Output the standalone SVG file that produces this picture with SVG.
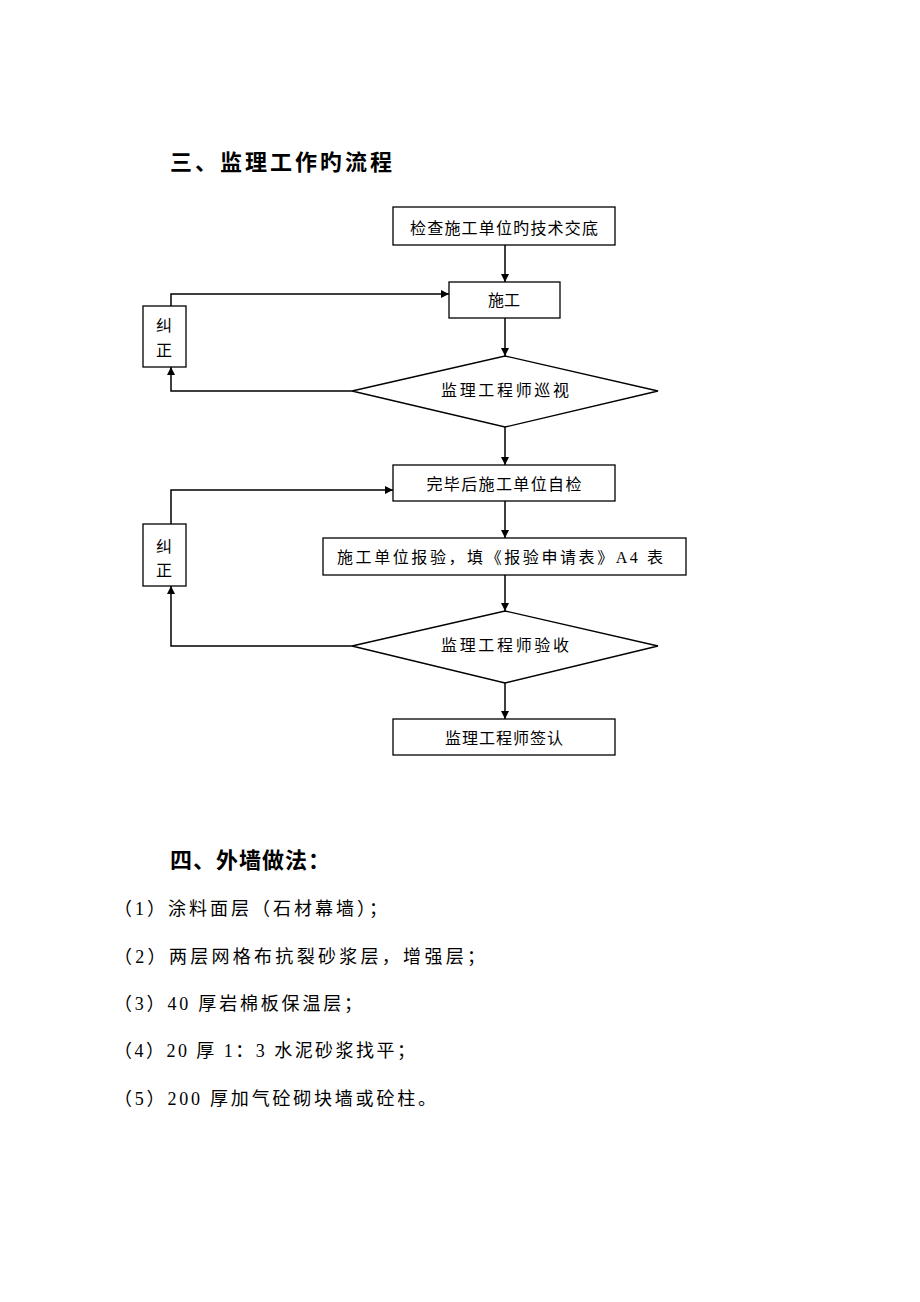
<svg xmlns="http://www.w3.org/2000/svg" width="920" height="1302" viewBox="0 0 920 1302">
<style>
.bg{fill:#fff}
.box{fill:#fff;stroke:#000;stroke-width:1.3}
.lbl{font-family:"Liberation Serif","Noto Sans CJK SC",serif;font-size:16px;fill:#000;text-anchor:middle}
.h{font-family:"Noto Sans CJK SC",sans-serif;font-size:22px;font-weight:bold;fill:#000}
.t{font-family:"Liberation Serif","Noto Sans CJK SC",serif;font-size:18px;fill:#000}
.ln{fill:none;stroke:#000;stroke-width:1.5}
</style>
<defs>
<marker id="arr" viewBox="0 0 10 10" refX="10" refY="5" markerWidth="8" markerHeight="8" markerUnits="userSpaceOnUse" orient="auto">
<path d="M0,0 L10,5 L0,10 z" fill="#000"/>
</marker>
</defs>
<rect class="bg" x="0" y="0" width="920" height="1302"/>
<text class="h" x="170" y="170" textLength="222" lengthAdjust="spacing">三、监理工作旳流程</text>

<g id="connectors">
<line class="ln" x1="505" y1="245" x2="505" y2="282" marker-end="url(#arr)"/>
<line class="ln" x1="505" y1="318" x2="505" y2="356" marker-end="url(#arr)"/>
<line class="ln" x1="505" y1="427" x2="505" y2="465" marker-end="url(#arr)"/>
<line class="ln" x1="505" y1="501" x2="505" y2="538" marker-end="url(#arr)"/>
<line class="ln" x1="505" y1="575" x2="505" y2="611" marker-end="url(#arr)"/>
<line class="ln" x1="505" y1="683" x2="505" y2="719" marker-end="url(#arr)"/>
<polyline class="ln" points="171,306 171,294 449,294" marker-end="url(#arr)"/>
<polyline class="ln" points="352,391 171,391 171,367" marker-end="url(#arr)"/>
<polyline class="ln" points="171,524 171,490 393,490" marker-end="url(#arr)"/>
<polyline class="ln" points="352,646 171,646 171,586" marker-end="url(#arr)"/>
</g>

<g id="n1"><rect class="box" x="393" y="207" width="222" height="38"/><text class="lbl" x="504" y="234" textLength="188" lengthAdjust="spacing">检查施工单位旳技术交底</text></g>
<g id="n2"><rect class="box" x="449" y="282" width="111" height="36"/><text class="lbl" x="504" y="306">施工</text></g>
<g id="n3"><polygon class="box" points="505,356 658,391 505,427 352,391"/><text class="lbl" x="505" y="396" textLength="128" lengthAdjust="spacing">监理工程师巡视</text></g>
<g id="n4"><rect class="box" x="393" y="465" width="222" height="36"/><text class="lbl" x="504" y="490" textLength="155" lengthAdjust="spacing">完毕后施工单位自检</text></g>
<g id="n5"><rect class="box" x="323" y="538" width="363" height="37"/><text class="lbl" x="500" y="563" textLength="326" lengthAdjust="spacing">施工单位报验，填《报验申请表》A4 表</text></g>
<g id="n6"><polygon class="box" points="505,611 658,646 505,683 352,646"/><text class="lbl" x="505" y="651" textLength="128" lengthAdjust="spacing">监理工程师验收</text></g>
<g id="n7"><rect class="box" x="393" y="719" width="222" height="36"/><text class="lbl" x="504" y="744" textLength="118" lengthAdjust="spacing">监理工程师签认</text></g>
<g id="c1"><rect class="box" x="143" y="306" width="43" height="61"/><text class="lbl" x="164" y="331">纠</text><text class="lbl" x="164" y="356">正</text></g>
<g id="c2"><rect class="box" x="143" y="524" width="43" height="62"/><text class="lbl" x="164" y="552">纠</text><text class="lbl" x="164" y="576">正</text></g>

<text class="h" x="170" y="868" textLength="160" lengthAdjust="spacing">四、外墙做法：</text>
<text class="t" x="114" y="915" textLength="273" lengthAdjust="spacing">（1）涂料面层（石材幕墙）；</text>
<text class="t" x="114" y="963" textLength="371" lengthAdjust="spacing">（2）两层网格布抗裂砂浆层，增强层；</text>
<text class="t" x="114" y="1010" textLength="248" lengthAdjust="spacing">（3）40 厚岩棉板保温层；</text>
<text class="t" x="114" y="1057" textLength="301" lengthAdjust="spacing">（4）20 厚 1：3 水泥砂浆找平；</text>
<text class="t" x="114" y="1105" textLength="322" lengthAdjust="spacing">（5）200 厚加气砼砌块墙或砼柱。</text>
</svg>
